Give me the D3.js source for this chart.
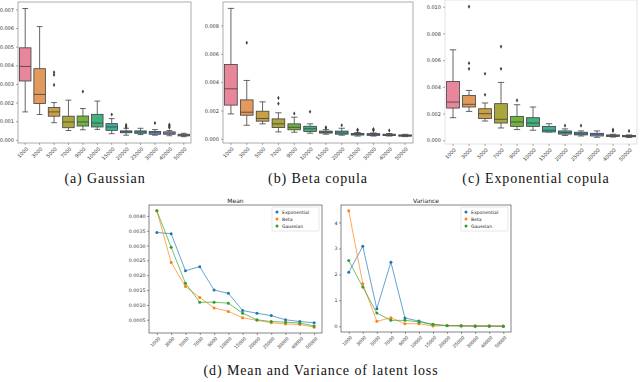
<!doctype html>
<html lang="en">
<head>
<meta charset="utf-8">
<title>Latent loss</title>
<style>
  body { margin: 0; background: #fff; }
  svg { display: block; }
  .tick text { font-family: 'DejaVu Sans', sans-serif; fill: #333; }
  .caption { font-family: 'Liberation Serif', 'DejaVu Serif', serif; font-size: 14px; letter-spacing: 0.9px; fill: #111; }
  .plot-title { font-family: 'DejaVu Sans', sans-serif; font-size: 6px; fill: #222; }
  .legend text { font-family: 'DejaVu Sans', sans-serif; font-size: 4.6px; fill: #222; }
</style>
</head>
<body>
<div id="chart"></div>
<script src="https://cdn.jsdelivr.net/npm/d3@7"></script>
<script>
// sample sizes on every x axis
const categories = ['1000', '3000', '5000', '7000', '9000', '10000', '15000', '20000', '25000', '30000', '40000', '50000'];

// box colours (seaborn husl, desaturated)
const boxColors = ['#e8879b', '#e29a5c', '#c9a046', '#a8a63c', '#72b23f', '#43b07c', '#3eae9c', '#40a9b0', '#47a3c4', '#6b9fdc', '#9e98e4', '#d08ad6'];

// [whisker low, q1, median, q3, whisker high]
const gaussianStats = [
  [0.00150, 0.00316, 0.00394, 0.00494, 0.00705],
  [0.00136, 0.00195, 0.00244, 0.00382, 0.00608],
  [0.00092, 0.00127, 0.00150, 0.00174, 0.00200],
  [0.00050, 0.00065, 0.00096, 0.00127, 0.00213],
  [0.00054, 0.00074, 0.00096, 0.00128, 0.00168],
  [0.00056, 0.00069, 0.00090, 0.00137, 0.00208],
  [0.00033, 0.00051, 0.00069, 0.00087, 0.00114],
  [0.00025, 0.00038, 0.00043, 0.00048, 0.00062],
  [0.00028, 0.00035, 0.00042, 0.00048, 0.00062],
  [0.00025, 0.00030, 0.00038, 0.00045, 0.00055],
  [0.00022, 0.00030, 0.00036, 0.00043, 0.00050],
  [0.00017, 0.00021, 0.00025, 0.00030, 0.00035]
];
const gaussianOutliers = [[], [], [0.00363, 0.00349, 0.00295], [], [0.00259], [], [0.00136],
  [0.00080, 0.00072, 0.00068], [], [0.00090], [0.00082, 0.00076, 0.00070, 0.00065], []];

const betaStats = [
  [0.00176, 0.00238, 0.00353, 0.00525, 0.00920],
  [0.00096, 0.00167, 0.00188, 0.00275, 0.00412],
  [0.00106, 0.00125, 0.00144, 0.00195, 0.00261],
  [0.00049, 0.00080, 0.00106, 0.00141, 0.00184],
  [0.00047, 0.00064, 0.00082, 0.00106, 0.00153],
  [0.00040, 0.00052, 0.00071, 0.00089, 0.00106],
  [0.00033, 0.00041, 0.00047, 0.00055, 0.00065],
  [0.00026, 0.00033, 0.00042, 0.00055, 0.00075],
  [0.00020, 0.00027, 0.00033, 0.00038, 0.00045],
  [0.00020, 0.00025, 0.00030, 0.00037, 0.00042],
  [0.00020, 0.00024, 0.00028, 0.00033, 0.00038],
  [0.00016, 0.00019, 0.00023, 0.00028, 0.00032]
];
const betaOutliers = [[], [0.00678], [], [0.00289, 0.00249], [0.00179], [0.00191], [0.00082, 0.00076],
  [0.00096], [0.00065, 0.00060], [0.00070, 0.00065, 0.00060], [0.00060], []];

const exponentialStats = [
  [0.00169, 0.00241, 0.00286, 0.00440, 0.00677],
  [0.00216, 0.00249, 0.00269, 0.00336, 0.00373],
  [0.00144, 0.00162, 0.00199, 0.00236, 0.00279],
  [0.00092, 0.00129, 0.00157, 0.00274, 0.00433],
  [0.00080, 0.00104, 0.00137, 0.00179, 0.00266],
  [0.00075, 0.00104, 0.00129, 0.00169, 0.00249],
  [0.00062, 0.00062, 0.00075, 0.00104, 0.00124],
  [0.00036, 0.00046, 0.00058, 0.00070, 0.00085],
  [0.00032, 0.00040, 0.00048, 0.00060, 0.00070],
  [0.00022, 0.00032, 0.00045, 0.00052, 0.00070],
  [0.00024, 0.00029, 0.00034, 0.00040, 0.00045],
  [0.00021, 0.00026, 0.00030, 0.00036, 0.00040]
];
const exponentialOutliers = [[], [0.01000, 0.00577, 0.00535], [0.00498, 0.00341], [0.00701, 0.00535], [0.00299], [], [],
  [0.00110], [0.00110], [], [0.00080, 0.00070], [0.00070]];

// mean and variance of latent loss
const meanExponential = [0.00344, 0.00340, 0.00215, 0.00229, 0.00150, 0.00139, 0.00081, 0.00072, 0.00064, 0.00050, 0.00044, 0.00040];
const meanBeta = [0.00417, 0.00243, 0.00162, 0.00125, 0.00090, 0.00078, 0.00057, 0.00048, 0.00040, 0.00036, 0.00034, 0.00025];
const meanGaussian = [0.00417, 0.00294, 0.00173, 0.00109, 0.00109, 0.00106, 0.00072, 0.00050, 0.00044, 0.00042, 0.00039, 0.00029];
const varExponential = [2.08, 3.08, 0.68, 2.47, 0.32, 0.20, 0.06, 0.03, 0.02, 0.01, 0.01, 0.005];
const varBeta = [4.45, 1.64, 0.19, 0.33, 0.10, 0.10, 0.01, 0.03, 0.03, 0.02, 0.02, 0.01];
const varGaussian = [2.53, 1.51, 0.51, 0.23, 0.23, 0.17, 0.08, 0.02, 0.01, 0.005, 0.005, 0.003];

const seriesNames = ['Exponential', 'Beta', 'Gaussian'];
const seriesColors = ['#1f77b4', '#ff7f0e', '#2ca02c'];

const svg = d3.select('#chart').append('svg')
  .attr('width', 640)
  .attr('height', 382);

// one seaborn-like boxplot panel
function drawBoxPanel(stats, outliers, box, yDomain, yTicks, frameColor) {
  const g = svg.append('g');
  const x = d3.scaleBand().domain(categories).range([box.left, box.right]);
  const y = d3.scaleLinear().domain(yDomain).range([box.bottom, box.top]);
  const bw = x.bandwidth() * 0.8;
  const lineColor = '#3f3f3f';

  g.append('rect')
    .attr('x', box.left).attr('y', box.top)
    .attr('width', box.right - box.left).attr('height', box.bottom - box.top)
    .attr('fill', 'none').attr('stroke', frameColor).attr('stroke-width', 0.8);

  const items = g.selectAll('g.item')
    .data(stats.map((s, i) => ({ s, i, cat: categories[i], out: outliers[i] })))
    .join('g').attr('class', 'item');

  items.each(function (d) {
    const it = d3.select(this);
    const cx = x(d.cat) + x.bandwidth() / 2;
    const [lo, q1, med, q3, hi] = d.s;
    it.append('line').attr('x1', cx).attr('x2', cx).attr('y1', y(q3)).attr('y2', y(hi))
      .attr('stroke', lineColor).attr('stroke-width', 0.8);
    it.append('line').attr('x1', cx).attr('x2', cx).attr('y1', y(q1)).attr('y2', y(lo))
      .attr('stroke', lineColor).attr('stroke-width', 0.8);
    [lo, hi].forEach(v => {
      it.append('line').attr('x1', cx - bw / 4).attr('x2', cx + bw / 4).attr('y1', y(v)).attr('y2', y(v))
        .attr('stroke', lineColor).attr('stroke-width', 0.8);
    });
    it.append('rect')
      .attr('x', cx - bw / 2).attr('width', bw)
      .attr('y', y(q3)).attr('height', Math.max(0.6, y(q1) - y(q3)))
      .attr('fill', boxColors[d.i]).attr('stroke', lineColor).attr('stroke-width', 0.8);
    it.append('line').attr('x1', cx - bw / 2).attr('x2', cx + bw / 2).attr('y1', y(med)).attr('y2', y(med))
      .attr('stroke', lineColor).attr('stroke-width', 0.8);
    it.selectAll('path.flier').data(d.out).join('path')
      .attr('class', 'flier')
      .attr('transform', v => `translate(${cx},${y(v)})`)
      .attr('d', d3.symbol(d3.symbolDiamond, 5))
      .attr('fill', lineColor);
  });

  const ya = g.append('g').attr('transform', `translate(${box.left},0)`)
    .call(d3.axisLeft(y).tickValues(yTicks).tickSize(2).tickPadding(2).tickFormat(d3.format('.3f')));
  ya.select('.domain').remove();
  ya.selectAll('line').attr('stroke', '#555').attr('stroke-width', 0.5);
  ya.selectAll('text').attr('font-size', 5);

  const xa = g.append('g').attr('transform', `translate(0,${box.bottom})`)
    .call(d3.axisBottom(x).tickSize(2).tickPadding(1));
  xa.select('.domain').remove();
  xa.selectAll('line').attr('stroke', '#555').attr('stroke-width', 0.5);
  xa.selectAll('text').attr('font-size', 5)
    .attr('text-anchor', 'end')
    .attr('dy', '0.3em')
    .attr('transform', 'translate(0,3) rotate(-45)');
}

drawBoxPanel(gaussianStats, gaussianOutliers, { left: 18, right: 191, top: 2, bottom: 143 },
  [-0.00017, 0.0074], d3.range(0, 0.0075, 0.001), '#9a9a9a');
drawBoxPanel(betaStats, betaOutliers, { left: 223, right: 413, top: 2, bottom: 143 },
  [-0.00029, 0.00965], d3.range(0, 0.0085, 0.002), '#9a9a9a');
drawBoxPanel(exponentialStats, exponentialOutliers, { left: 445, right: 637, top: 0, bottom: 144 },
  [-0.00028, 0.0105], d3.range(0, 0.0105, 0.002), '#dcdcdc');

// matplotlib-like line panel
function drawLinePanel(seriesList, box, title, yTicks, fmt) {
  const g = svg.append('g');
  const x = d3.scaleLinear().domain([-0.55, categories.length - 1 + 0.55]).range([box.left, box.right]);
  const all = seriesList.flat();
  const [mn, mx] = d3.extent(all);
  const pad = (mx - mn) * 0.05;
  const y = d3.scaleLinear().domain([mn - pad, mx + pad]).range([box.bottom, box.top]);

  const line = d3.line().x((d, i) => x(i)).y(d => y(d));
  seriesList.forEach((s, k) => {
    g.append('path').datum(s)
      .attr('d', line).attr('fill', 'none')
      .attr('stroke', seriesColors[k]).attr('stroke-width', 0.8).attr('opacity', 0.85);
    g.selectAll(null).data(s).join('circle')
      .attr('cx', (d, i) => x(i)).attr('cy', d => y(d)).attr('r', 1.5)
      .attr('fill', seriesColors[k]);
  });

  g.append('rect')
    .attr('x', box.left).attr('y', box.top)
    .attr('width', box.right - box.left).attr('height', box.bottom - box.top)
    .attr('fill', 'none').attr('stroke', '#333').attr('stroke-width', 0.6);

  const ya = g.append('g').attr('transform', `translate(${box.left},0)`)
    .call(d3.axisLeft(y).tickValues(yTicks).tickSize(2).tickPadding(1.5).tickFormat(fmt));
  ya.select('.domain').remove();
  ya.selectAll('line').attr('stroke', '#333').attr('stroke-width', 0.5);
  ya.selectAll('text').attr('font-size', 4.8);

  const xa = g.append('g').attr('transform', `translate(0,${box.bottom})`)
    .call(d3.axisBottom(x).tickValues(d3.range(categories.length)).tickSize(2).tickPadding(1)
      .tickFormat(i => categories[i]));
  xa.select('.domain').remove();
  xa.selectAll('line').attr('stroke', '#333').attr('stroke-width', 0.5);
  xa.selectAll('text').attr('font-size', 4.5)
    .attr('text-anchor', 'end')
    .attr('dy', '0.3em')
    .attr('transform', 'translate(0,3) rotate(-45)');

  g.append('text').attr('class', 'plot-title')
    .attr('x', (box.left + box.right) / 2).attr('y', box.top - 2.5)
    .attr('text-anchor', 'middle').text(title);

  // legend, upper right
  const lg = g.append('g').attr('class', 'legend')
    .attr('transform', `translate(${box.right - 50},${box.top + 2})`);
  lg.append('rect').attr('width', 47).attr('height', 24).attr('rx', 1)
    .attr('fill', '#fff').attr('stroke', '#ccc').attr('stroke-width', 0.5);
  seriesNames.forEach((name, k) => {
    lg.append('circle').attr('cx', 5).attr('cy', 5 + k * 7).attr('r', 1.5).attr('fill', seriesColors[k]);
    lg.append('text').attr('x', 10).attr('y', 5 + k * 7).attr('dy', '0.35em').text(name);
  });
}

drawLinePanel([meanExponential, meanBeta, meanGaussian], { left: 149, right: 322, top: 205, bottom: 333 },
  'Mean', d3.range(0.0005, 0.00405, 0.0005), d3.format('.4f'));
drawLinePanel([varExponential, varBeta, varGaussian], { left: 341, right: 511, top: 205, bottom: 332 },
  'Variance', [0, 1, 2, 3, 4], d3.format('d'));

// sub-figure captions
const captions = [
  { text: '(a) Gaussian', x: 105, y: 183 },
  { text: '(b) Beta copula', x: 318, y: 183 },
  { text: '(c) Exponential copula', x: 536, y: 183 },
  { text: '(d) Mean and Variance of latent loss', x: 321, y: 375 }
];
svg.selectAll('text.caption').data(captions).join('text')
  .attr('class', 'caption')
  .attr('x', d => d.x).attr('y', d => d.y)
  .attr('text-anchor', 'middle')
  .text(d => d.text);
</script>
</body>
</html>
